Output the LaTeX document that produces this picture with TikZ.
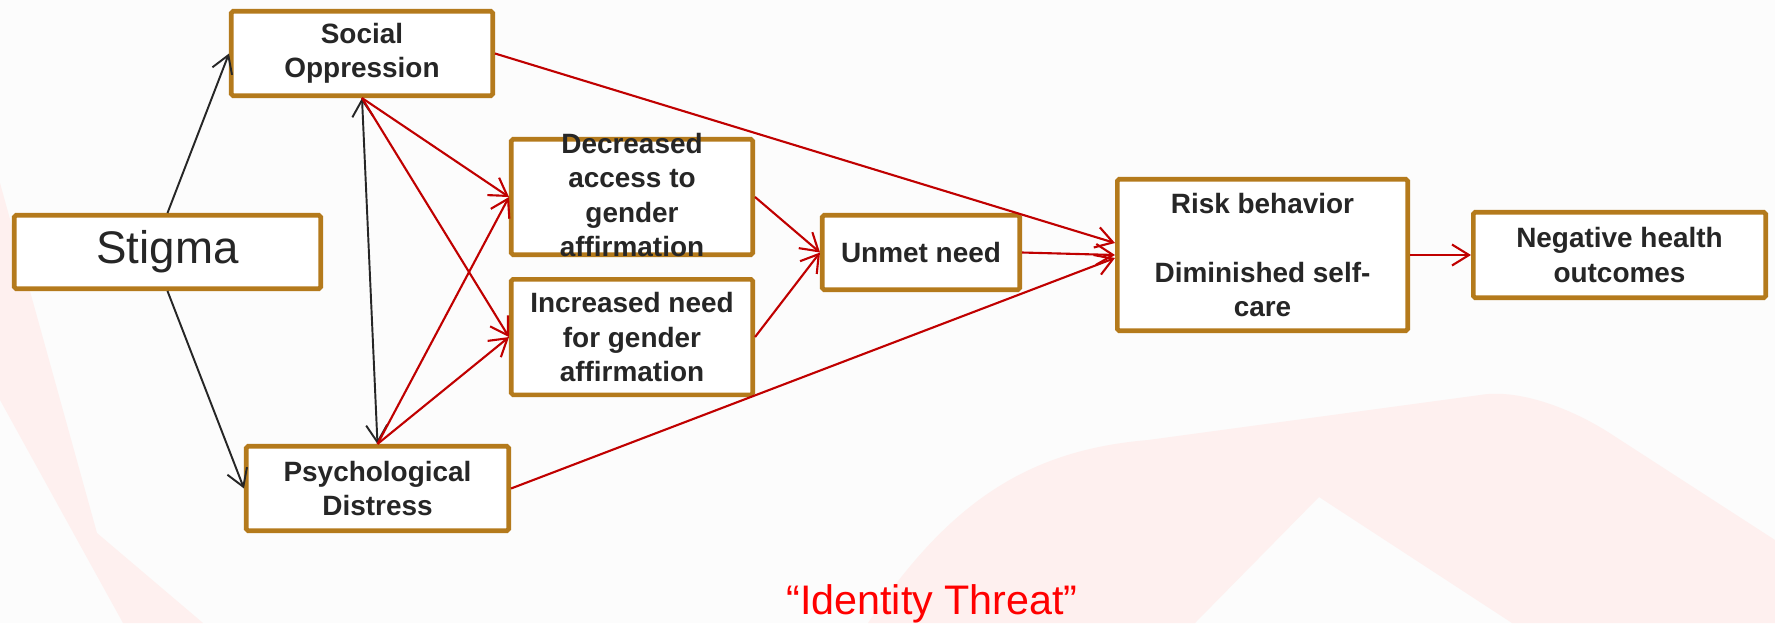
\documentclass[tikz,border=0pt]{standalone}
\usepackage{fontspec}
\setmainfont{Liberation Sans}
\usetikzlibrary{arrows.meta,positioning}
\definecolor{boxcol}{HTML}{B47A1C}
\definecolor{inkcol}{HTML}{262626}
\definecolor{linkcol}{HTML}{C00000}
\definecolor{pagecol}{HTML}{FCFCFC}
\definecolor{swooshcol}{HTML}{FEF0EF}

\begin{document}
\begin{tikzpicture}[x=0.02cm,y=-0.02cm,
        box/.style={draw=boxcol,line width=2.6pt,rounded corners=1pt,fill=white,text=inkcol,
          align=center,font=\fontsize{15.9}{19.4}\selectfont\bfseries,inner sep=0pt},
        blk/.style={-{Straight Barb[length=3.4mm,width=4.2mm]},inkcol,line width=1.1pt},
        blkboth/.style={{Straight Barb[length=3.4mm,width=4.2mm]}-{Straight Barb[length=3.4mm,width=4.2mm]},inkcol,line width=1.1pt},
        rarr/.style={-{Straight Barb[length=3.4mm,width=4.2mm]},linkcol,line width=1.2pt}]
        % slide background
        \fill[pagecol](0,0) rectangle (1775,623);
        \useasboundingbox (0,0) rectangle (1775,623);
        \fill[swooshcol](0,183) -- (97,533) -- (203,623) -- (123,623) -- (0,400) -- cycle;
        \fill[swooshcol](868,623) .. controls (950,500) and (1030,450) .. (1148,440) -- (1480,395)
          .. controls (1515,389) and (1565,405) .. (1608,432) -- (1775,540) -- (1775,623)
          -- (1512,623) -- (1319,497) -- (1195,623) -- cycle;
        % boxes
        \node[box,minimum width=6.13cm,minimum height=1.47cm,font=\fontsize{26}{31}\selectfont](stig) at (167.5,252){Stigma};
        \node[box,minimum width=5.23cm,minimum height=1.69cm](soc) at (362,53.5){Social\\Oppression};
        \node[box,minimum width=5.25cm,minimum height=1.69cm](psy) at (377.5,488.5){Psychological\\Distress};
        \node[box,minimum width=4.83cm,minimum height=2.31cm](dec) at (632,197)
          {\raisebox{-5pt}[0pt][0pt]{\begin{tabular}{@{}c@{}}Decreased\\access to\\gender\\affirmation\end{tabular}}};
        \node[box,minimum width=4.83cm,minimum height=2.31cm,below=0.4cm of dec](inc){Increased need\\for gender\\affirmation};
        \node[box,minimum width=3.95cm,minimum height=1.49cm](unmet) at (921,252.5){Unmet need};
        \node[box,minimum width=5.81cm,minimum height=3.03cm](risk) at (1262.5,255){Risk behavior\\[19.4pt]Diminished self-\\care};
        \node[box,minimum width=5.85cm,minimum height=1.71cm,right=1.22cm of risk](neg){Negative health\\outcomes};
        \node[anchor=base,text=red,font=\fontsize{23.5}{28}\selectfont](threat) at (932,614){“Identity Threat”};
        % links
        \draw[blk](stig.north)--(soc.west);\draw[blk](stig.south)--(psy.west);\draw[blkboth](soc.south)--(psy.north);
        \draw[rarr](soc.south)--(dec.west);\draw[rarr](soc.south)--(inc.west);
        \draw[rarr](psy.north)--(dec.west);\draw[rarr](psy.north)--(inc.west);
        \draw[rarr](dec.east)--(unmet.west);\draw[rarr](inc.east)--(unmet.west);
        \draw[rarr](soc.east)--([yshift=0.24cm]risk.west);\draw[rarr](unmet.east)--(risk.west);
        \draw[rarr](psy.east)--([yshift=-0.06cm]risk.west);\draw[rarr](risk.east)--(neg.west);
      \end{tikzpicture}
\end{document}
